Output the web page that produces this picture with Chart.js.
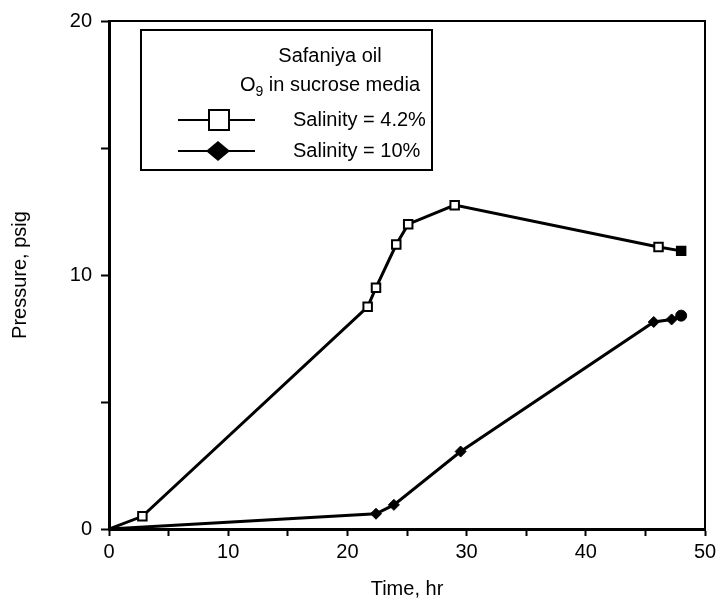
<!DOCTYPE html>
<html>
<head>
<meta charset="utf-8">
<script src="https://cdn.jsdelivr.net/npm/chart.js@4.4.1/dist/chart.umd.min.js"></script>
<style>
  html, body { margin: 0; padding: 0; background: #fff; }
  #wrap { width: 721px; height: 608px; }
</style>
</head>
<body>
<div id="wrap"><canvas id="chart"></canvas></div>
<script>
// Time (hr) and pressure (psig)
const timeLow = [0, 2.8, 21.7, 22.4, 24.1, 25.1, 29.0, 46.1, 48.0];
const pressureLow = [0, 0.5, 8.75, 9.5, 11.2, 12.0, 12.75, 11.1, 10.95];
const timeHigh = [0, 22.4, 23.9, 29.5, 45.7, 47.2, 48.0];
const pressureHigh = [0, 0.6, 0.95, 3.05, 8.15, 8.25, 8.4];

const legendTitle = ["Safaniya oil", "in sucrose media"];
const seriesLabels = ["Salinity = 4.2%", "Salinity = 10%"];

const FONT = "'Liberation Sans', Arial, sans-serif";

const toPoints = (xs, ys) => xs.map((x, i) => ({ x: x, y: ys[i] }));

const frame = {
  id: "frame",
  afterDraw: chart => {
    const ctx = chart.ctx;
    const a = chart.chartArea;
    ctx.save();
    ctx.strokeStyle = "#000";
    ctx.lineWidth = 2;
    ctx.beginPath();
    ctx.moveTo(a.left, a.top);
    ctx.lineTo(a.right, a.top);
    ctx.lineTo(a.right, a.bottom);
    ctx.stroke();
    ctx.restore();
  }
};

const boxLegend = {
  id: "boxLegend",
  afterDraw: chart => {
    const ctx = chart.ctx;
    ctx.save();
    ctx.fillStyle = "#fff";
    ctx.fillRect(141, 30, 291, 140);
    ctx.strokeStyle = "#000";
    ctx.lineWidth = 2;
    ctx.strokeRect(141, 30, 291, 140);

    ctx.fillStyle = "#000";
    ctx.font = "20px " + FONT;
    ctx.textBaseline = "middle";
    ctx.textAlign = "center";
    ctx.fillText(legendTitle[0], 330, 56);

    // second line with subscript 9
    ctx.textAlign = "left";
    const restW = ctx.measureText(" " + legendTitle[1]).width;
    const oW = ctx.measureText("O").width;
    ctx.font = "14px " + FONT;
    const subW = ctx.measureText("9").width;
    let x = 330 - (oW + subW + restW) / 2;
    ctx.font = "20px " + FONT;
    ctx.fillText("O", x, 85);
    x += oW;
    ctx.font = "14px " + FONT;
    ctx.fillText("9", x, 92);
    x += subW;
    ctx.font = "20px " + FONT;
    ctx.fillText(" " + legendTitle[1], x, 85);

    // samples
    ctx.lineWidth = 2;
    ctx.beginPath();
    ctx.moveTo(178, 120);
    ctx.lineTo(255, 120);
    ctx.moveTo(178, 151);
    ctx.lineTo(255, 151);
    ctx.stroke();
    ctx.fillStyle = "#fff";
    ctx.fillRect(209, 110, 20, 20);
    ctx.strokeRect(209, 110, 20, 20);
    ctx.fillStyle = "#000";
    ctx.beginPath();
    ctx.moveTo(218, 141);
    ctx.lineTo(230, 151);
    ctx.lineTo(218, 161);
    ctx.lineTo(206, 151);
    ctx.closePath();
    ctx.fill();

    ctx.font = "20px " + FONT;
    ctx.fillText(seriesLabels[0], 293, 120);
    ctx.fillText(seriesLabels[1], 293, 151);
    ctx.restore();
  }
};

const tickCb = v => (v % 10 === 0 ? v : "");

new Chart(document.getElementById("chart"), {
  type: "line",
  plugins: [frame, boxLegend],
  data: {
    datasets: [
      {
        label: seriesLabels[0],
        data: toPoints(timeLow, pressureLow),
        borderColor: "#000",
        borderWidth: 3,
        pointStyle: "rect",
        pointRadius: timeLow.map((t, i) => (i === 0 ? 0 : 6)),
        pointBorderWidth: 2,
        pointBorderColor: "#000",
        pointBackgroundColor: timeLow.map((t, i) => (i === timeLow.length - 1 ? "#000" : "#fff"))
      },
      {
        label: seriesLabels[1],
        data: toPoints(timeHigh, pressureHigh),
        borderColor: "#000",
        borderWidth: 3,
        pointStyle: timeHigh.map((t, i) => (i === timeHigh.length - 1 ? "circle" : "rectRot")),
        pointRadius: timeHigh.map((t, i) => (i === 0 ? 0 : 5.5)),
        pointBorderWidth: 1,
        pointBorderColor: "#000",
        pointBackgroundColor: "#000"
      }
    ]
  },
  options: {
    animation: false,
    responsive: true,
    maintainAspectRatio: false,
    layout: { padding: { top: 16, right: 16, left: 0, bottom: 0 } },
    plugins: {
      legend: { display: false },
      tooltip: { enabled: false }
    },
    scales: {
      x: {
        type: "linear",
        min: 0,
        max: 50,
        afterFit: s => { s.height = 79; },
        ticks: {
          stepSize: 5,
          autoSkip: false,
          maxRotation: 0,
          color: "#000",
          padding: 4,
          font: { family: FONT, size: 20 },
          callback: tickCb
        },
        grid: {
          drawOnChartArea: false,
          drawTicks: true,
          tickLength: 7,
          tickWidth: 2,
          tickColor: "#000"
        },
        border: { color: "#000", width: 3 },
        title: {
          display: true,
          text: "Time, hr",
          color: "#000",
          font: { family: FONT, size: 20 },
          padding: { top: 0, bottom: 7 }
        }
      },
      y: {
        min: 0,
        max: 20,
        afterFit: s => { s.width = 109; },
        ticks: {
          stepSize: 5,
          autoSkip: false,
          color: "#000",
          padding: 9,
          font: { family: FONT, size: 20 },
          callback: tickCb
        },
        grid: {
          drawOnChartArea: false,
          drawTicks: true,
          tickLength: 8,
          tickWidth: 2,
          tickColor: "#000"
        },
        border: { color: "#000", width: 3 },
        title: {
          display: true,
          text: "Pressure, psig",
          color: "#000",
          font: { family: FONT, size: 20 },
          padding: { top: 8, bottom: 0 }
        }
      }
    }
  }
});
</script>
</body>
</html>
